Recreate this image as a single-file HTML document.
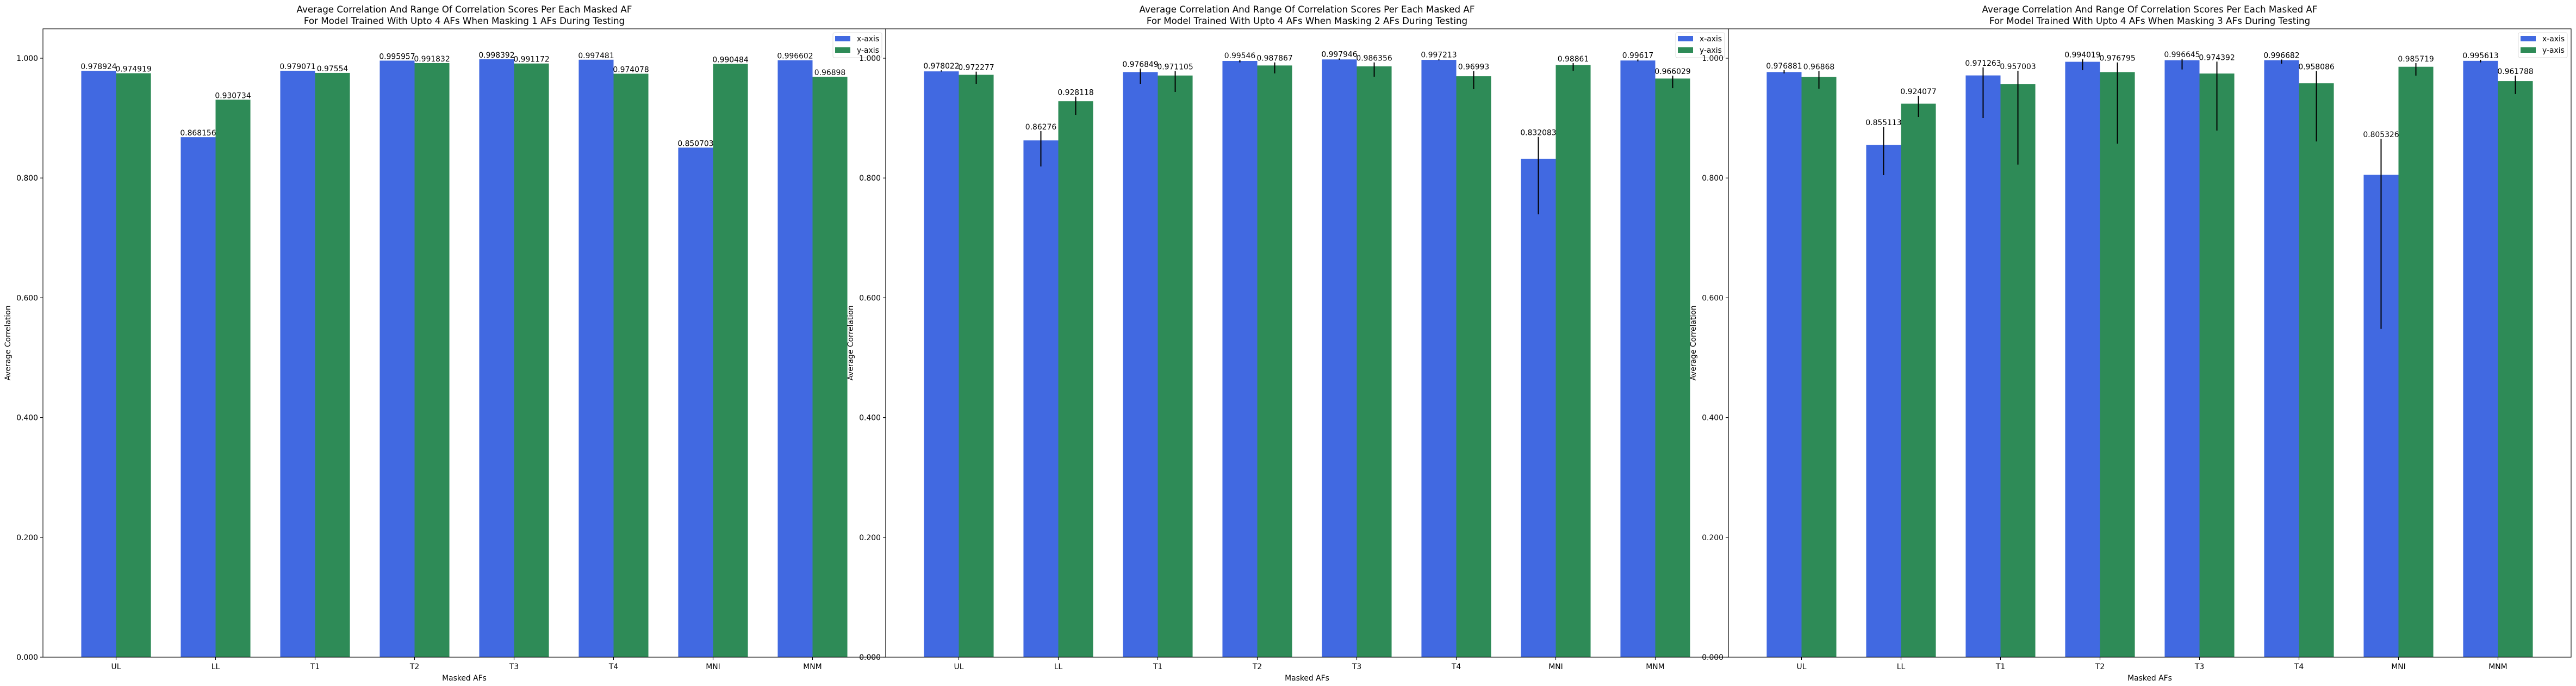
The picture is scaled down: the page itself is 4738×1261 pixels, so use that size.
<!DOCTYPE html>
<html><head><meta charset="utf-8"><style>
html,body{margin:0;padding:0;background:#fff;}
svg{display:block;font-family:"DejaVu Sans","Liberation Sans",sans-serif;}
</style></head><body>
<svg id="chart" width="4738" height="1261" viewBox="0 0 4738 1261" xmlns="http://www.w3.org/2000/svg"></svg>
<script>
const categories = ["UL","LL","T1","T2","T3","T4","MNI","MNM"];
const yTicks = [0,0.2,0.4,0.6,0.8,1.0];
const maskCounts = [1,2,3];
const xVals1 = [0.978924,0.868156,0.979071,0.995957,0.998392,0.997481,0.850703,0.996602];
const yVals1 = [0.974919,0.930734,0.97554,0.991832,0.991172,0.974078,0.990484,0.96898];
const xVals2 = [0.978022,0.86276,0.976849,0.99546,0.997946,0.997213,0.832083,0.99617];
const yVals2 = [0.972277,0.928118,0.971105,0.987867,0.986356,0.96993,0.98861,0.966029];
const xVals3 = [0.976881,0.855113,0.971263,0.994019,0.996645,0.996682,0.805326,0.995613];
const yVals3 = [0.96868,0.924077,0.957003,0.976795,0.974392,0.958086,0.985719,0.961788];
const xLabels1 = ["0.978924","0.868156","0.979071","0.995957","0.998392","0.997481","0.850703","0.996602"];
const yLabels1 = ["0.974919","0.930734","0.97554","0.991832","0.991172","0.974078","0.990484","0.96898"];
const xLabels2 = ["0.978022","0.86276","0.976849","0.99546","0.997946","0.997213","0.832083","0.99617"];
const yLabels2 = ["0.972277","0.928118","0.971105","0.987867","0.986356","0.96993","0.98861","0.966029"];
const xLabels3 = ["0.976881","0.855113","0.971263","0.994019","0.996645","0.996682","0.805326","0.995613"];
const yLabels3 = ["0.96868","0.924077","0.957003","0.976795","0.974392","0.958086","0.985719","0.961788"];
const xErrLo2 = [0.9777,0.8193,0.9573,0.9930,0.9973,0.9964,0.7393,0.9949];
const xErrHi2 = [0.9798,0.8783,0.9827,0.9973,0.9997,0.9988,0.8686,0.9979];
const yErrLo2 = [0.9573,0.9055,0.9437,0.9746,0.9691,0.9482,0.9791,0.9500];
const yErrHi2 = [0.9776,0.9358,0.9785,0.9930,0.9930,0.9785,0.9918,0.9709];
const xErrLo3 = [0.9746,0.8047,0.9001,0.9800,0.9812,0.9909,0.548,0.9930];
const xErrHi3 = [0.9800,0.8856,0.9846,0.9985,0.9991,0.9979,0.8656,0.9973];
const yErrLo3 = [0.9491,0.9019,0.8223,0.8574,0.8792,0.8610,0.9709,0.9401];
const yErrHi3 = [0.9785,0.9373,0.9791,0.9930,0.9943,0.9785,0.9918,0.9709];

const panels = [
  {left:79, xv:xVals1, yv:yVals1, xl:xLabels1, yl:yLabels1, xlo:null, xhi:null, ylo:null, yhi:null},
  {left:1629, xv:xVals2, yv:yVals2, xl:xLabels2, yl:yLabels2, xlo:xErrLo2, xhi:xErrHi2, ylo:yErrLo2, yhi:yErrHi2},
  {left:3179, xv:xVals3, yv:yVals3, xl:xLabels3, yl:yLabels3, xlo:xErrLo3, xhi:xErrHi3, ylo:yErrLo3, yhi:yErrHi3}
];
const NS = "http://www.w3.org/2000/svg";
const svg = document.getElementById("chart");
const W = 1550, TOP = 53, BOT = 1208, UNIT = W/8.47, BW = 0.35*UNIT;
function yS(v){ return BOT - v*1101; }
function mk(tag, attrs, parent){
  const e = document.createElementNS(NS, tag);
  for (const k in attrs) e.setAttribute(k, attrs[k]);
  (parent||svg).appendChild(e);
  return e;
}
panels.forEach((p, pi) => {
  const g = mk("g", {});
  
  
  const xS = i => p.left + (i + 0.735) * UNIT;
  // title
  const t = mk("text", {x:p.left+W/2, y:23, "text-anchor":"middle", "font-size":"16.7"}, g);
  
  
  mk("tspan", {x:p.left+W/2, y:23}, t).textContent = "Average Correlation And Range Of Correlation Scores Per Each Masked AF";
  mk("tspan", {x:p.left+W/2, y:44}, t).textContent = "For Model Trained With Upto 4 AFs When Masking " + maskCounts[pi] + " AFs During Testing";
  // bars
  const series = [[p.xv, p.xl, p.xlo, p.xhi, "#4169e1", -1, "x"], [p.yv, p.yl, p.ylo, p.yhi, "#2e8b57", 0, "y"]];
  series.forEach(s => {
    s[0].forEach((v, i) => {
      const bx = xS(i) + s[5]*BW;
      const r = mk("rect", {x:bx, y:yS(v), width:BW, height:BOT-yS(v), fill:s[4]}, g);
      
      
      let topY = yS(v);
      const cx = bx + BW/2;
      if (s[2]) {
        const l = mk("line", {x1:cx, x2:cx, y1:yS(s[2][i]), y2:yS(s[3][i]), stroke:"#000", "stroke-width":"2"}, g);
        
        
        topY = Math.min(topY, yS(s[3][i]));
      }
      const lt = mk("text", {x:cx, y:topY-3, "text-anchor":"middle", "font-size":"13.9"}, g);
      
      
      lt.textContent = s[1][i];
    });
  });
  // spines
  const fr = mk("rect", {x:p.left, y:TOP, width:W, height:BOT-TOP, fill:"none", stroke:"#000", "stroke-width":"1.1"}, g);
  
  
  // y ticks
  yTicks.forEach(v => {
    mk("line", {x1:p.left-5, x2:p.left, y1:yS(v), y2:yS(v), stroke:"#000", "stroke-width":"1.1"}, g);
    const tl = mk("text", {x:p.left-9, y:yS(v)+5, "text-anchor":"end", "font-size":"13.9"}, g);
    
    
    tl.textContent = v.toFixed(3);
  });
  // x ticks
  categories.forEach((c, i) => {
    mk("line", {x1:xS(i), x2:xS(i), y1:BOT, y2:BOT+5, stroke:"#000", "stroke-width":"1.1"}, g);
    const tl = mk("text", {x:xS(i), y:BOT+22, "text-anchor":"middle", "font-size":"13.9"}, g);
    
    
    tl.textContent = c;
  });
  const xt = mk("text", {x:p.left+W/2, y:BOT+43, "text-anchor":"middle", "font-size":"13.9"}, g);
  
  
  xt.textContent = "Masked AFs";
  const yt = mk("text", {x:0, y:0, "text-anchor":"middle", "font-size":"13.9", transform:"translate(" + (p.left-60) + "," + ((TOP+BOT)/2) + ") rotate(-90)"}, g);
  
  
  yt.textContent = "Average Correlation";
  // legend
  const lg = mk("g", {}, g);
  
  
  const lx = p.left + W - 97;
  mk("rect", {x:lx, y:60, width:90, height:46, rx:3, fill:"#fff", "fill-opacity":"0.8", stroke:"#ddd", "stroke-width":"1"}, lg);
  [["x-axis","#4169e1"],["y-axis","#2e8b57"]].forEach((e, k) => {
    const le = mk("g", {}, lg);
    
    
    mk("rect", {x:lx+4, y:66+k*21, width:28, height:10, fill:e[1]}, le);
    const tx = mk("text", {x:lx+44, y:76+k*21, "font-size":"13.9"}, le);
    tx.textContent = e[0];
  });
});
</script>
</body></html>
